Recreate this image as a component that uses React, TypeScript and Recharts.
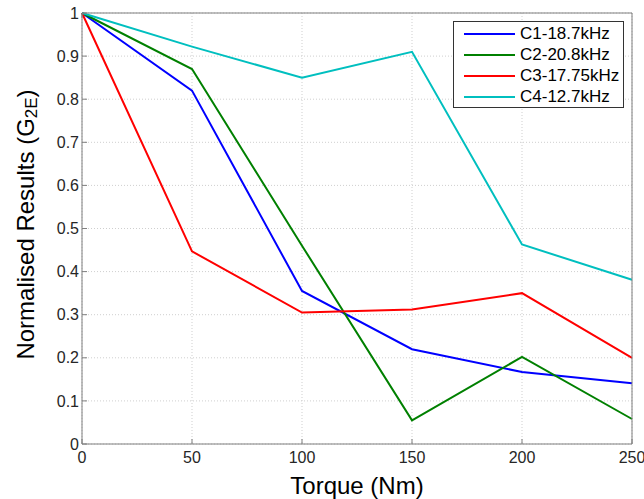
import React from 'react';
import {
  LineChart,
  Line,
  XAxis,
  YAxis,
  CartesianGrid,
  Legend
} from 'recharts';

const torque = [0, 50, 100, 150, 200, 250];
const c1 = [1, 0.82, 0.355, 0.22, 0.167, 0.141];
const c2 = [1, 0.87, 0.46, 0.055, 0.202, 0.058];
const c3 = [1, 0.447, 0.305, 0.312, 0.35, 0.2];
const c4 = [1, 0.922, 0.85, 0.91, 0.463, 0.381];

const xTicks = [0, 50, 100, 150, 200, 250];
const yTicks = [0, 0.1, 0.2, 0.3, 0.4, 0.5, 0.6, 0.7, 0.8, 0.9, 1];

const SERIES = [
  { key: 'c1', name: 'C1-18.7kHz', color: '#0000ff' },
  { key: 'c2', name: 'C2-20.8kHz', color: '#008000' },
  { key: 'c3', name: 'C3-17.75kHz', color: '#ff0000' },
  { key: 'c4', name: 'C4-12.7kHz', color: '#00bfbf' }
];

const data = torque.map((t, i) => ({ t, c1: c1[i], c2: c2[i], c3: c3[i], c4: c4[i] }));

const FONT = '"Liberation Sans", Arial, Helvetica, sans-serif';
const FRAME = '#7f7f7f';
const TEXT = '#262626';

const YLabel = (props: any) => {
  const vb = props.viewBox || {};
  const cx = 25;
  const cy = vb.y + vb.height / 2 - 4;
  return (
    <text
      x={cx}
      y={cy}
      transform={`rotate(-90 ${cx} ${cy})`}
      textAnchor="middle"
      dominantBaseline="central"
      fontFamily={FONT}
      fontSize={24}
      fill="#000"
    >
      <tspan>Normalised Results (G</tspan>
      <tspan fontSize={17} dy={6}>2E</tspan>
      <tspan dy={-6}>)</tspan>
    </text>
  );
};

const LegendBox = () => (
  <div
    style={{
      boxSizing: 'border-box',
      width: 171,
      height: 87,
      border: '1px solid #333',
      background: '#fff',
      padding: '1px 0 0 10px',
      fontFamily: FONT,
      fontSize: 17,
      color: '#000'
    }}
  >
    {SERIES.map((s) => (
      <div key={s.key} style={{ display: 'flex', alignItems: 'center', height: 21.2 }}>
        <span style={{ display: 'inline-block', width: 51, height: 2, background: s.color, marginRight: 5 }} />
        <span>{s.name}</span>
      </div>
    ))}
  </div>
);

export default function App() {
  return (
    <div style={{ position: 'absolute', left: 0, top: 0, background: '#fff' }}>
      <LineChart
        width={644}
        height={499}
        data={data}
        margin={{ top: 12, right: 11, left: 0, bottom: 0 }}
      >
        <CartesianGrid strokeDasharray="1 2" stroke="#cfcfcf" />
        <XAxis
          dataKey="t"
          type="number"
          domain={[0, 250]}
          ticks={xTicks}
          height={55}
          stroke={FRAME}
          tickSize={-5}
          tickMargin={13}
          tick={{ fill: TEXT, fontSize: 16, fontFamily: FONT }}
          label={{ value: 'Torque (Nm)', position: 'insideBottom', offset: 5, fill: '#000', fontSize: 24, fontFamily: FONT }}
        />
        <XAxis
          xAxisId="top"
          orientation="top"
          type="number"
          domain={[0, 250]}
          ticks={xTicks}
          height={1}
          stroke={FRAME}
          tickSize={-5}
          tickFormatter={() => ''}
        />
        <YAxis
          type="number"
          domain={[0, 1]}
          ticks={yTicks}
          width={82}
          stroke={FRAME}
          tickSize={-5}
          tickMargin={8}
          tick={{ fill: TEXT, fontSize: 16, fontFamily: FONT }}
          label={<YLabel />}
        />
        <YAxis
          yAxisId="right"
          orientation="right"
          type="number"
          domain={[0, 1]}
          ticks={yTicks}
          width={1}
          stroke={FRAME}
          tickSize={-5}
          tickFormatter={() => ''}
        />
        <Legend
          layout="vertical"
          align="center"
          verticalAlign="middle"
          content={<LegendBox />}
          wrapperStyle={{ top: 21, left: 453, right: 'auto', width: 171 }}
        />
        {SERIES.map((s) => (
          <Line
            key={s.key}
            type="linear"
            dataKey={s.key}
            name={s.name}
            stroke={s.color}
            strokeWidth={2}
            dot={false}
            activeDot={false}
            isAnimationActive={false}
          />
        ))}
      </LineChart>
    </div>
  );
}
